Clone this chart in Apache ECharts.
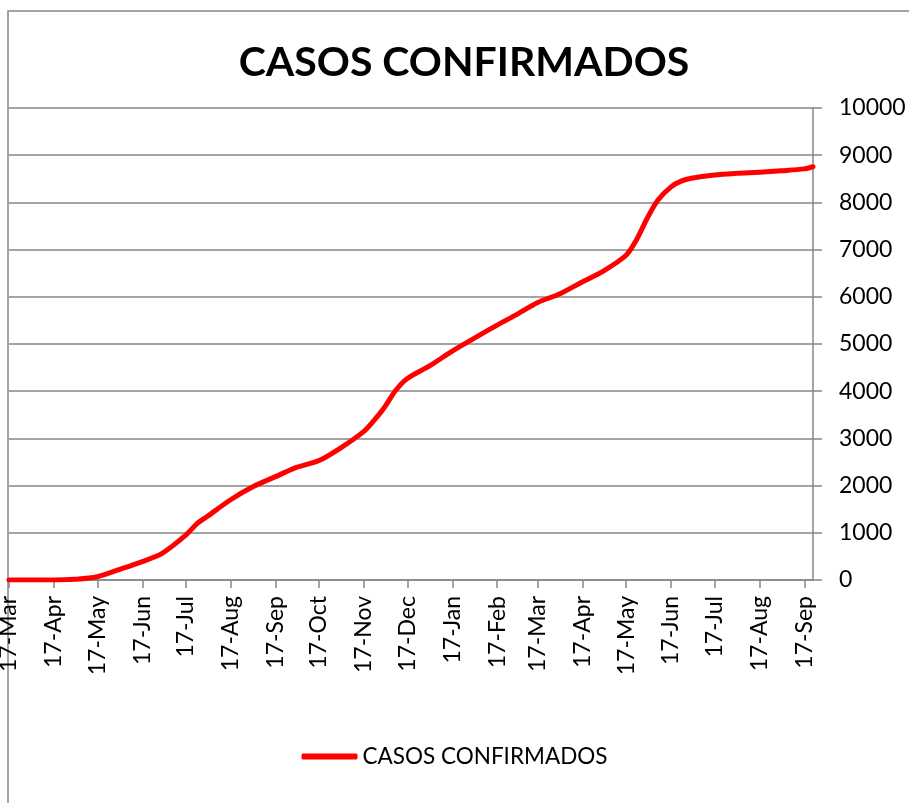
<!DOCTYPE html>
<html>
<head>
<meta charset="utf-8">
<script src="https://cdn.jsdelivr.net/npm/echarts@6/dist/echarts.min.js"></script>
<style>
  html, body { margin: 0; padding: 0; background: #fff; }
  #chart { width: 909px; height: 803px; }
</style>
</head>
<body>
<div id="chart"></div>
<script>
// fechas (acumulado de casos confirmados)
var dates = [
  '2020-03-17', '2020-04-17', '2020-05-01', '2020-05-17', '2020-06-01', '2020-06-17',
  '2020-07-01', '2020-07-17', '2020-07-25', '2020-08-01', '2020-08-17', '2020-09-01',
  '2020-09-17', '2020-10-01', '2020-10-17', '2020-11-01', '2020-11-17', '2020-11-24',
  '2020-12-01', '2020-12-09', '2020-12-17', '2021-01-01', '2021-01-17', '2021-02-01',
  '2021-02-17', '2021-03-01', '2021-03-17', '2021-04-01', '2021-04-17', '2021-05-01',
  '2021-05-17', '2021-05-24', '2021-06-01', '2021-06-08', '2021-06-17', '2021-06-24',
  '2021-07-01', '2021-07-17', '2021-08-01', '2021-08-17', '2021-09-01', '2021-09-17',
  '2021-09-23'
];
var casos = [
  0, 0, 15, 70, 220, 390,
  570, 950, 1200, 1350, 1700, 1970,
  2190, 2380, 2530, 2800, 3150, 3380,
  3650, 4020, 4270, 4530, 4850, 5120,
  5400, 5600, 5880, 6060, 6320, 6540,
  6880, 7200, 7690, 8050, 8330, 8450,
  8510, 8580, 8615, 8640, 8670, 8710,
  8755
];
// marcas del eje X (día 17 de cada mes)
var tickDates = [
  '2020-03-17', '2020-04-17', '2020-05-17', '2020-06-17', '2020-07-17', '2020-08-17',
  '2020-09-17', '2020-10-17', '2020-11-17', '2020-12-17', '2021-01-17', '2021-02-17',
  '2021-03-17', '2021-04-17', '2021-05-17', '2021-06-17', '2021-07-17', '2021-08-17',
  '2021-09-17'
];
var monthNames = ['Jan', 'Feb', 'Mar', 'Apr', 'May', 'Jun', 'Jul', 'Aug', 'Sep', 'Oct', 'Nov', 'Dec'];

var myChart = echarts.init(document.getElementById('chart'));

function toMs(d) { return Date.parse(d + 'T00:00:00Z'); }
var tickValues = tickDates.map(toMs);
var seriesData = dates.map(function (d, i) { return [toMs(d), casos[i]]; });

var gray = '#868686';

var option = {
  backgroundColor: '#fff',
  animation: false,
  textStyle: { fontFamily: 'Lato' },
  title: {
    text: 'CASOS CONFIRMADOS',
    left: 459,
    top: 37,
    textAlign: 'center',
    textStyle: { fontSize: 41, fontWeight: 'bold', color: '#000', fontFamily: 'Lato' }
  },
  legend: {
    bottom: 30,
    left: 'center',
    icon: 'roundRect',
    itemWidth: 56,
    itemHeight: 6,
    itemGap: 4,
    textStyle: { fontSize: 22.5, color: '#000', fontFamily: 'Lato' },
    data: ['CASOS CONFIRMADOS']
  },
  grid: { left: 9, right: 96, top: 108, bottom: 223, containLabel: false, outerBoundsMode: 'none' },
  xAxis: {
    type: 'value',
    min: toMs('2020-03-17'),
    max: toMs('2021-09-23'),
    axisLine: { show: true, onZero: false, lineStyle: { color: gray, width: 1.5 } },
    axisTick: { show: true, length: 8, lineStyle: { color: gray, width: 1.5 }, customValues: tickValues },
    splitLine: { show: false },
    axisLabel: {
      customValues: tickValues,
      rotate: 90,
      margin: 16,
      fontSize: 23,
      color: '#000',
      formatter: function (v) {
        var d = new Date(v);
        return d.getUTCDate() + '-' + monthNames[d.getUTCMonth()];
      }
    }
  },
  yAxis: {
    type: 'value',
    position: 'right',
    min: 0,
    max: 10000,
    interval: 1000,
    axisLine: { show: true, lineStyle: { color: gray, width: 1.5 } },
    axisTick: { show: true, length: 9, lineStyle: { color: gray, width: 1.5 } },
    splitLine: { show: true, lineStyle: { color: gray, width: 1.5 } },
    axisLabel: { margin: 26, fontSize: 23, color: '#000', formatter: function (v) { return String(v); } }
  },
  series: [{
    name: 'CASOS CONFIRMADOS',
    type: 'line',
    data: seriesData,
    symbol: 'none',
    smooth: 0.3,
    itemStyle: { color: '#ff0000' },
    lineStyle: { color: '#ff0000', width: 5, cap: 'round', join: 'round' }
  }],
  graphic: [{
    type: 'rect',
    shape: { x: 8, y: 11, width: 1000, height: 1000 },
    style: { fill: 'none', stroke: gray, lineWidth: 1.5 },
    silent: true,
    z: -1
  }]
};
myChart.setOption(option);
</script>
</body>
</html>
